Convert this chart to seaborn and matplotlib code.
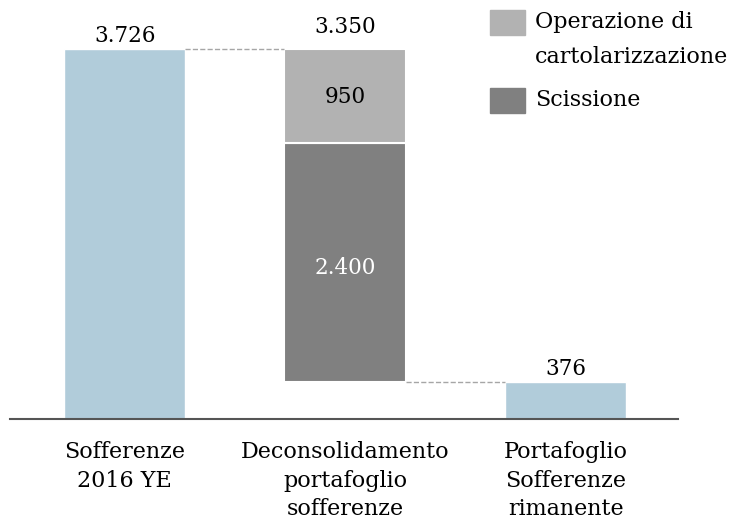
import numpy as np
import pandas as pd
import matplotlib
matplotlib.use('Agg')
import matplotlib.pyplot as plt
import seaborn as sns
from matplotlib.patches import Rectangle

# data
categories = ['Sofferenze\n2016 YE', 'Deconsolidamento\nportafoglio\nsofferenze', 'Portafoglio\nSofferenze\nrimanente']
start_value = 3726
scissione = 2400
cartolarizzazione = 950
end_value = 376
total_label = ['3.726', '3.350', '376']
segment_labels = ['2.400', '950']
legend_labels = ['Operazione di\ncartolarizzazione', 'Scissione']

# style
sns.set_style('white')
plt.rcParams['font.family'] = ['DejaVu Serif']
plt.rcParams['text.color'] = 'black'
plt.rcParams['xtick.color'] = 'black'

c_blue = '#B1CCDA'
c_light = '#B2B2B2'
c_dark = '#808080'
c_dash = '#A6A6A6'

W, H = 740, 530
fig = plt.figure(figsize=(7.4, 5.3), dpi=100)
ax = fig.add_axes([10 / W, 111 / H, 668 / W, 399 / H])

df = pd.DataFrame({'cat': [categories[0], categories[2]],
                   'val': [start_value, end_value]})
sns.barplot(data=df, x='cat', y='val', order=categories, color=c_blue,
            width=0.55, saturation=1, ax=ax)

# floating segments for the middle bar
ax.bar(1, scissione, bottom=end_value, width=0.55, color=c_dark,
       edgecolor='white', linewidth=1.5)
ax.bar(1, cartolarizzazione, bottom=end_value + scissione, width=0.55,
       color=c_light, edgecolor='white', linewidth=1.5)

# connectors
ax.plot([0.275, 0.725], [start_value, start_value], ls='--', color=c_dash, lw=1)
ax.plot([1.275, 1.725], [end_value, end_value], ls='--', color=c_dash, lw=1)

# value labels
fs = 15.5
ax.text(0, start_value + 20, total_label[0], ha='center', va='bottom', fontsize=fs)
ax.text(1, start_value + 110, total_label[1], ha='center', va='bottom', fontsize=fs)
ax.text(2, end_value + 20, total_label[2], ha='center', va='bottom', fontsize=fs)
ax.text(1, end_value + scissione / 2 - 60, segment_labels[0], ha='center', va='center',
        fontsize=fs, color='white')
ax.text(1, end_value + scissione + cartolarizzazione / 2 - 10, segment_labels[1],
        ha='center', va='center', fontsize=fs)

ax.set_xlim(-0.52, 2.51)
ax.set_ylim(0, 399 / 0.0993)
ax.set_xlabel('')
ax.set_ylabel('')
ax.set_yticks([])
ax.tick_params(axis='x', length=0, labelsize=16, pad=16)
for lbl in ax.get_xticklabels():
    lbl.set_linespacing(1.37)
for s in ['top', 'right', 'left']:
    ax.spines[s].set_visible(False)
ax.spines['bottom'].set_color('#555555')
ax.spines['bottom'].set_linewidth(1.5)

# legend drawn by hand (patch aligned with the first text line)
def fy(y):
    return 1 - y / H

for lab, col, ytop in zip(legend_labels, [c_light, c_dark], [10, 88]):
    fig.patches.append(Rectangle((490 / W, fy(ytop + 25)), 35 / W, 25 / H,
                                 color=col, transform=fig.transFigure))
    for i, line in enumerate(lab.split('\n')):
        fig.text(535 / W, fy(ytop + 12 + 35 * i), line, ha='left', va='center',
                 fontsize=16)

fig.savefig('out.png', dpi=100)
